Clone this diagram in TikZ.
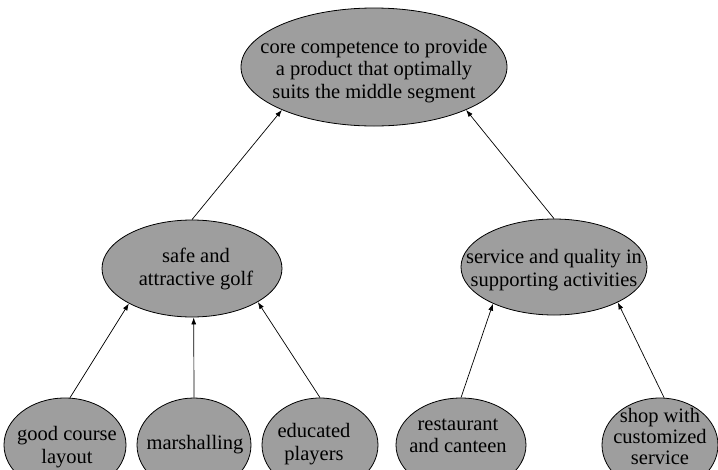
\documentclass[tikz,border=0pt]{standalone}
\usepackage{fontspec}
\setmainfont{Liberation Serif}
\usetikzlibrary{shapes.geometric,arrows.meta}
\begin{document}
\begin{tikzpicture}[x=1pt,y=-1pt,
  bubble/.style={ellipse,draw=black,line width=0.8pt,fill=black!38,inner sep=0pt},
  txt/.style={align=center,inner sep=0pt,font=\fontsize{20.5}{22.5}\selectfont},
  link/.style={-{Latex[length=7pt,width=5pt]},line width=0.7pt}]
\useasboundingbox[fill=white] (0,0) rectangle (718,469);
% ellipses
\node[bubble,minimum width=266pt,minimum height=118pt] (core) at (374,67) {};
\node[bubble,minimum width=180pt,minimum height=97pt] (safe) at (192,268.5) {};
\node[bubble,minimum width=186pt,minimum height=96pt] (serv) at (554,267) {};
\node[bubble,minimum width=122pt,minimum height=94pt] (good) at (65,445) {};
\node[bubble,minimum width=114pt,minimum height=94pt] (marsh) at (194,445) {};
\node[bubble,minimum width=116pt,minimum height=94pt] (edu) at (320,445) {};
\node[bubble,minimum width=130pt,minimum height=94pt] (rest) at (461,445) {};
\node[bubble,minimum width=116pt,minimum height=94pt] (shop) at (660,445) {};
% texts
\node[txt] (core-t) at (374,71) {core competence to provide\\a product that optimally\\suits the middle segment};
\node[txt] (safe-t) at (196,269) {safe and\\attractive golf};
\node[txt] (serv-t) at (554,270) {service and quality in\\supporting activities};
\node[txt] (good-t) at (67,447) {good course\\layout};
\node[txt] (marsh-t) at (195,445) {marshalling};
\node[txt] (edu-t) at (314,444) {educated\\players};
\node[txt] (rest-t) at (458,436) {restaurant\\and canteen};
\node[txt,font=\fontsize{20.5}{21}\selectfont] (shop-t) at (660,436) {shop with\\customized\\service};
% connectors
\draw[link] (safe.north) -- (core.205);
\draw[link] (serv.north) -- (core.335);
\draw[link] (good.84) -- (safe.209);
\draw[link] (marsh.north) -- (safe.272);
\draw[link] (edu.north) -- (safe.333);
\draw[link] (rest.north) -- (serv.211);
\draw[link] (shop.85) -- (serv.331);
\end{tikzpicture}
\end{document}
